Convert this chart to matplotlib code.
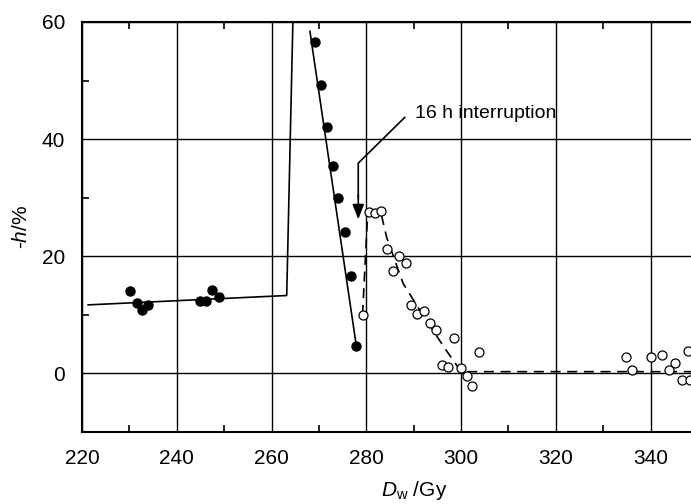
#!/usr/bin/env python
import numpy as np
import matplotlib
matplotlib.use('Agg')
import matplotlib.pyplot as plt

plt.rcParams['font.family'] = ['Liberation Sans', 'DejaVu Sans']
plt.rcParams['mathtext.fontset'] = 'custom'
plt.rcParams['mathtext.it'] = 'Liberation Sans:italic'
plt.rcParams['mathtext.rm'] = 'Liberation Sans'

# Filled points (before interruption)
dose_low = [230.1, 231.5, 232.7, 234.0, 245.0, 246.2, 247.5, 248.9]
h_low    = [14.1, 12.0, 10.9, 11.6, 12.4, 12.3, 14.3, 13.0]
dose_dn  = [269.1, 270.4, 271.6, 272.9, 274.1, 275.4, 276.7, 277.9]
h_dn     = [56.6, 49.2, 42.1, 35.4, 30.0, 24.2, 16.7, 4.65]

# Open points (after interruption)
dose_open = [279.2, 280.6, 281.9, 283.2, 284.4, 287.0, 288.4, 285.7, 289.4, 290.8,
             292.2, 293.4, 294.7, 298.6, 296.0, 297.3, 299.9, 301.2, 302.4, 303.8,
             334.7, 336.1, 340.0, 342.5, 345.2, 343.8, 346.6, 347.8, 348.4]
h_open    = [10.05, 27.5, 27.4, 27.7, 21.3, 20.1, 18.8, 17.4, 11.75, 10.1,
             10.7, 8.6, 7.4, 6.0, 1.36, 1.14, 0.85, -0.4, -2.2, 3.7,
             2.8, 0.57, 2.8, 3.1, 1.75, 0.57, -1.1, 3.8, -1.1]

# Fitted curves
fit1_x = [221.3, 263.2, 264.5]
fit1_y = [11.7, 13.3, 60.0]
fit2_x = [268.1, 277.9]
fit2_y = [58.4, 4.65]
fit3_x = [279.2, 280.3, 283.2, 284.3, 287.8, 292.7, 296.9, 300.0, 360.0]
fit3_y = [10.0, 27.5, 27.0, 23.2, 15.3, 9.0, 3.9, 0.3, 0.3]

fig = plt.figure(figsize=(6.91, 5.04), dpi=100)
ax  = fig.add_axes([0.1187, 0.1429, 0.960, 0.8135])

ax.plot(fit1_x, fit1_y, 'k-', lw=1.2)
ax.plot(fit2_x, fit2_y, 'k-', lw=1.2)
ax.plot(fit3_x, fit3_y, 'k--', lw=1.2, dashes=(6, 4))
ax.plot(dose_low, h_low, 'ko', ms=6.5)
ax.plot(dose_dn, h_dn, 'ko', ms=6.5)
ax.plot(dose_open, h_open, 'o', mfc='white', mec='k', mew=0.9, ms=6.5)

# Interruption arrow
ax.plot([288.1, 278.3, 278.3], [43.7, 35.9, 30.0], 'k-', lw=1.2)
ax.annotate('', xy=(278.3, 26.3), xytext=(278.3, 30.5),
            arrowprops=dict(arrowstyle='-|>,head_length=0.9,head_width=0.35',
                            color='k', lw=1.2, shrinkA=0, shrinkB=0))
ax.text(290.3, 44.3, '16 h interruption', fontsize=14, va='center', ha='left')

ax.set_xlim(220, 360)
ax.set_ylim(-10, 60)
ax.set_xticks(np.arange(220, 341, 20))
ax.set_yticks([0, 20, 40, 60])
ax.set_xticks(np.arange(230, 351, 20), minor=True)
ax.set_yticks([-10, 10, 30, 50], minor=True)
ax.grid(True, which='major', color='k', lw=1.0)
ax.tick_params(which='major', length=0, pad=12, labelsize=15)
ax.tick_params(which='minor', direction='in', length=5, width=1.2, top=True)
for s in ax.spines.values():
    s.set_linewidth(1.5)

ax.set_xlabel(r'$D_{\mathrm{w}}$ /Gy', fontsize=15, labelpad=8)
ax.set_ylabel(r'-$h$/%', fontsize=15, labelpad=8)

fig.savefig('out.png', dpi=100)
